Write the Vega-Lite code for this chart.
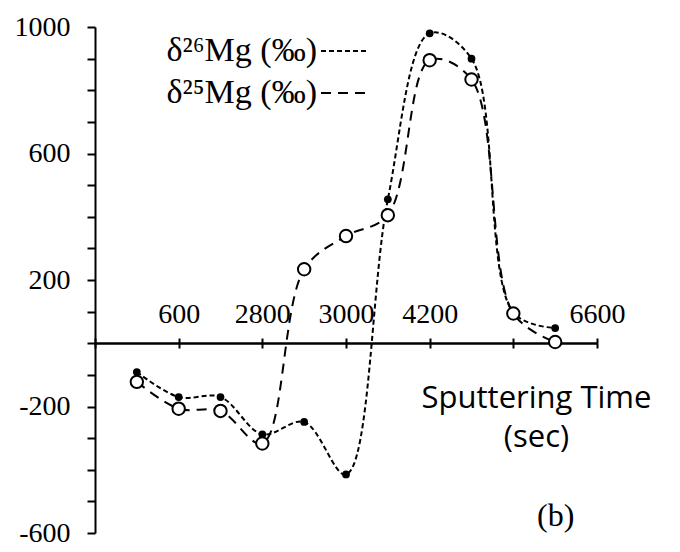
{
  "$schema": "https://vega.github.io/schema/vega-lite/v6.json",
  "width": 502,
  "height": 506,
  "autosize": {"type": "none"},
  "padding": {"left": 95, "top": 27, "right": 83, "bottom": 19},
  "background": "white",
  "title": {
    "text": "(b)", "orient": "bottom", "anchor": "start", "frame": "group",
    "dx": 442, "dy": -46, "offset": 0,
    "font": "Liberation Serif", "fontSize": 32, "fontWeight": "normal", "color": "black"
  },
  "config": {
    "view": {"stroke": null},
    "axis": {"grid": false, "domainColor": "black", "tickColor": "black", "labelColor": "black", "titleColor": "black", "domainWidth": 2, "tickWidth": 2}
  },
  "data": {"values": [
    {"t": 1, "series": "δ²⁶Mg (‰)", "v": -91},
    {"t": 2, "series": "δ²⁶Mg (‰)", "v": -170},
    {"t": 3, "series": "δ²⁶Mg (‰)", "v": -170},
    {"t": 4, "series": "δ²⁶Mg (‰)", "v": -288},
    {"t": 5, "series": "δ²⁶Mg (‰)", "v": -249},
    {"t": 6, "series": "δ²⁶Mg (‰)", "v": -415},
    {"t": 7, "series": "δ²⁶Mg (‰)", "v": 455},
    {"t": 8, "series": "δ²⁶Mg (‰)", "v": 980},
    {"t": 9, "series": "δ²⁶Mg (‰)", "v": 900},
    {"t": 10, "series": "δ²⁶Mg (‰)", "v": 97},
    {"t": 11, "series": "δ²⁶Mg (‰)", "v": 48},
    {"t": 1, "series": "δ²⁵Mg (‰)", "v": -122},
    {"t": 2, "series": "δ²⁵Mg (‰)", "v": -207},
    {"t": 3, "series": "δ²⁵Mg (‰)", "v": -214},
    {"t": 4, "series": "δ²⁵Mg (‰)", "v": -317},
    {"t": 5, "series": "δ²⁵Mg (‰)", "v": 234},
    {"t": 6, "series": "δ²⁵Mg (‰)", "v": 339},
    {"t": 7, "series": "δ²⁵Mg (‰)", "v": 405},
    {"t": 8, "series": "δ²⁵Mg (‰)", "v": 895},
    {"t": 9, "series": "δ²⁵Mg (‰)", "v": 834},
    {"t": 10, "series": "δ²⁵Mg (‰)", "v": 94},
    {"t": 11, "series": "δ²⁵Mg (‰)", "v": 4}
  ]},
  "encoding": {
    "y": {
      "field": "v", "type": "quantitative",
      "scale": {"domain": [-600, 1000], "nice": false, "zero": false},
      "axis": {
        "values": [-600, -500, -400, -300, -200, -100, 0, 100, 200, 300, 400, 500, 600, 700, 800, 900, 1000],
        "labelExpr": "abs(datum.value % 400) == 200 ? '' + datum.value : ''",
        "tickSize": 8, "labelPadding": 17,
        "labelFont": "Liberation Serif", "labelFontSize": 28,
        "labelFlush": false, "labelOverlap": false,
        "title": null
      }
    }
  },
  "layer": [
    {
      "mark": {"type": "line", "interpolate": "catmull-rom", "strokeWidth": 2, "color": "black"},
      "encoding": {
        "x": {
          "field": "t", "type": "quantitative",
          "scale": {"domain": [0, 12], "nice": false, "zero": false},
          "axis": {
            "orient": "top", "offset": -316,
            "values": [0, 2, 4, 6, 8, 10, 12],
            "tickSize": 5,
            "labelExpr": "datum.value == 2 ? '600' : datum.value == 4 ? '2800' : datum.value == 6 ? '3000' : datum.value == 8 ? '4200' : datum.value == 12 ? '6600' : ''",
            "labelFont": "Liberation Serif", "labelFontSize": 28,
            "labelBaseline": "alphabetic", "labelPadding": 16,
            "labelFlush": false, "labelOverlap": false,
            "title": null
          }
        },
        "strokeDash": {
          "field": "series", "type": "nominal",
          "scale": {"domain": ["δ²⁶Mg (‰)", "δ²⁵Mg (‰)"], "range": [[5, 3], [10, 7]]},
          "legend": {
            "orient": "none", "legendX": 225, "legendY": -1,
            "title": null, "symbolType": "stroke", "symbolSize": 2304,
            "symbolStrokeWidth": 2, "symbolStrokeColor": "black",
            "labelAlign": "right", "labelOffset": -53,
            "labelFont": "Liberation Serif", "labelFontSize": 34, "labelColor": "black",
            "labelLimit": 400, "rowPadding": -7, "padding": 0
          }
        }
      }
    },
    {
      "transform": [{"filter": "datum.series == 'δ²⁶Mg (‰)'"}],
      "mark": {"type": "point", "shape": "circle", "filled": true, "color": "black", "size": 60, "opacity": 1},
      "encoding": {
        "x": {
          "field": "t", "type": "quantitative",
          "axis": {
            "orient": "bottom", "offset": -190,
            "values": [0, 2, 4, 6, 8, 10, 12],
            "tickSize": 5, "labels": false,
            "title": ["Sputtering Time", "(sec)"],
            "titleFont": "Open Sans", "titleFontSize": 31, "titleFontWeight": "normal",
            "titleX": 441, "titleY": 64, "titleAlign": "center", "titleBaseline": "alphabetic",
            "titleLineHeight": 39, "titleAngle": 0
          }
        }
      }
    },
    {
      "transform": [{"filter": "datum.series == 'δ²⁵Mg (‰)'"}],
      "mark": {"type": "point", "shape": "circle", "filled": true, "fill": "white", "stroke": "black", "strokeWidth": 2, "size": 154, "opacity": 1},
      "encoding": {
        "x": {"field": "t", "type": "quantitative", "axis": null}
      }
    }
  ],
  "resolve": {"axis": {"x": "independent"}}
}
